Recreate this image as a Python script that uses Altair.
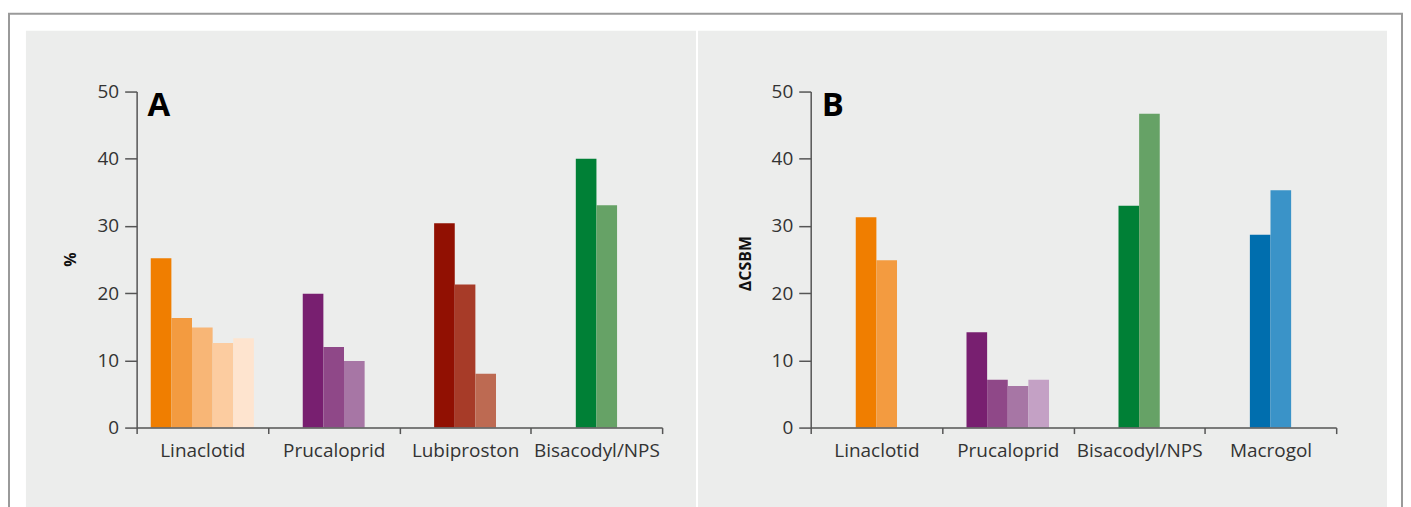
import altair as alt
import pandas as pd

# ---- data ----
cats_a = ["Linaclotid", "Prucaloprid", "Lubiproston", "Bisacodyl/NPS"]
vals_a = [[25.2, 16.3, 14.9, 12.6, 13.3], [19.9, 12.0, 9.9], [30.4, 21.3, 8.0], [40.0, 33.1]]
cols_a = [["#F07E00", "#F39B40", "#F8B676", "#FCCCA0", "#FEE4CF"],
          ["#781F70", "#8F4888", "#A776A5"],
          ["#911002", "#A73B28", "#BD6A52"],
          ["#008036", "#66A266"]]

cats_b = ["Linaclotid", "Prucaloprid", "Bisacodyl/NPS", "Macrogol"]
vals_b = [[31.3, 24.9], [14.2, 7.1, 6.2, 7.1], [33.0, 46.7], [28.7, 35.3]]
cols_b = [["#F07E00", "#F39B40"],
          ["#781F70", "#8F4888", "#A776A5", "#C4A1C5"],
          ["#008036", "#66A266"],
          ["#006EAE", "#3A93C8"]]

y_ticks = [0, 10, 20, 30, 40, 50]

BW = 0.157          # bar width as a fraction of a category band
W, H = 527, 337
FONT = "Open Sans"
BG = "#ECEDEC"
AXC = "#555555"


def bars_df(cats, vals, cols):
    rows = []
    for ci, (c, vs, cs) in enumerate(zip(cats, vals, cols)):
        n = len(vs)
        for j, (v, col) in enumerate(zip(vs, cs)):
            rows.append({"cat": c, "ci": ci, "j": j, "n": n, "value": v, "base": 0, "color": col})
    return pd.DataFrame(rows)


one = pd.DataFrame({"k": [0]})


def panel(cats, vals, cols, letter, ytitle, title_x, title_y, bg_x, bg_x2, frame=False):
    df = bars_df(cats, vals, cols)
    bg = alt.Chart(one).mark_rect(color=BG).encode(
        x=alt.value(bg_x), x2=alt.value(bg_x2), y=alt.value(-61), y2=alt.value(460)
    )
    layers = [bg]
    if frame:
        layers.append(
            alt.Chart(one).mark_rect(fillOpacity=0, stroke="#9A9A9A", strokeWidth=2).encode(
                x=alt.value(-128), x2=alt.value(1269), y=alt.value(-78), y2=alt.value(470)
            )
        )
    bars = alt.Chart(df).transform_calculate(
        x0=f"datum.ci + 0.5 + (datum.j - (datum.n - 1) / 2) * {BW} - {BW} / 2",
        x1=f"datum.ci + 0.5 + (datum.j - (datum.n - 1) / 2) * {BW} + {BW} / 2",
    ).mark_rect().encode(
        x=alt.X("x0:Q", scale=alt.Scale(domain=[0, len(cats)], nice=False, zero=False), axis=None),
        x2="x1:Q",
        y=alt.Y(
            "value:Q",
            scale=alt.Scale(domain=[0, 50], nice=False),
            axis=alt.Axis(
                values=y_ticks, grid=False, tickSize=12, labelPadding=6,
                labelFont=FONT, labelFontSize=19, labelColor="#333333",
                domainColor=AXC, tickColor=AXC, domainWidth=1.5, tickWidth=1.5,
                title=ytitle, titleX=title_x, titleY=title_y, titleBaseline="middle",
                titleFont=FONT, titleFontSize=16, titleFontWeight="bold", titleColor="#111111",
                zindex=2,
            ),
        ),
        y2="base:Q",
        color=alt.Color("color:N", scale=None),
    )
    xaxis = alt.Chart(pd.DataFrame({"cat": cats})).mark_rect(opacity=0).encode(
        x=alt.X(
            "cat:N", sort=cats,
            scale=alt.Scale(type="band", paddingInner=0, paddingOuter=0),
            axis=alt.Axis(
                title=None, labelAngle=0, tickBand="extent", tickSize=6, labelPadding=8,
                labelFont=FONT, labelFontSize=19, labelColor="#333333",
                domainColor=AXC, tickColor=AXC, domainWidth=1.5, tickWidth=1.5,
                zindex=2,
            ),
        )
    )
    lab = alt.Chart(one).mark_text(
        text=letter, align="left", baseline="alphabetic", fontSize=33,
        fontWeight="bold", font=FONT, color="#000000"
    ).encode(x=alt.value(11), y=alt.value(25))
    layers += [bars, xaxis, lab]
    return alt.layer(*layers).resolve_scale(x="independent").properties(width=W, height=H)


pa = panel(cats_a, vals_a, cols_a, "A", "%", -66, 168, -111, 561, frame=True)
pb = panel(cats_b, vals_b, cols_b, "B", "ΔCSBM", -65, 172, -113, 578)

chart = alt.hconcat(pa, pb, spacing=149, bounds="flush").properties(
    padding={"left": 0, "top": 4, "right": 0, "bottom": 0},
    background="white",
).configure_view(strokeWidth=0)

chart.save("out.html", embed_options={"renderer": "svg", "actions": False})
